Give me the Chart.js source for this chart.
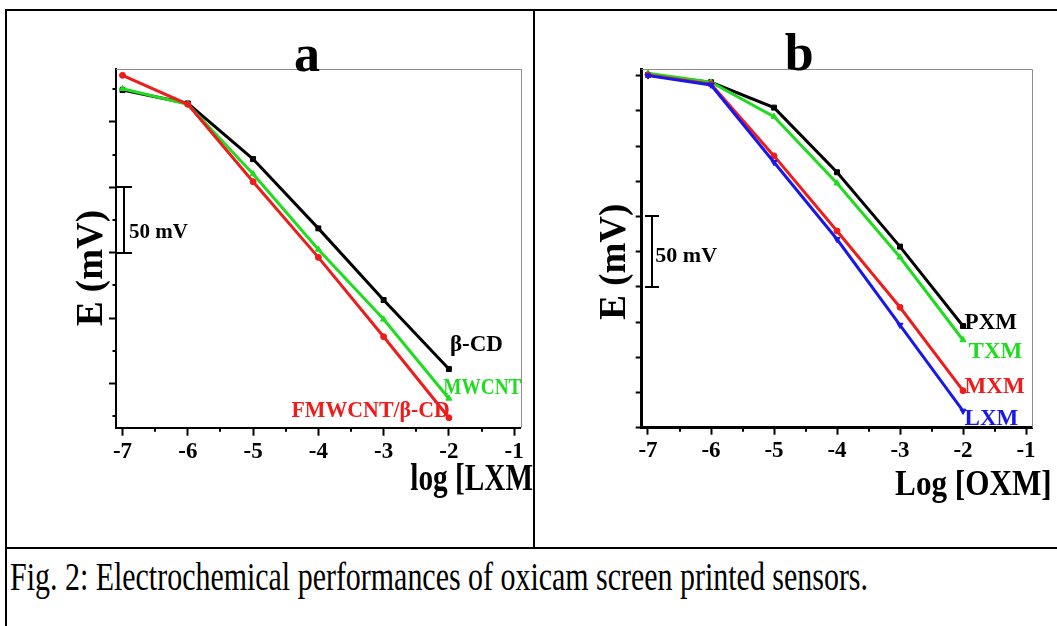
<!DOCTYPE html>
<html><head><meta charset="utf-8">
<script src="https://cdn.jsdelivr.net/npm/chart.js@4.4.1/dist/chart.umd.min.js"></script>
<style>
html,body{margin:0;padding:0;background:#fff;}
body{width:1057px;height:626px;position:relative;overflow:hidden;font-family:"Liberation Serif","Times New Roman",serif;}
.ln{position:absolute;background:#000;}
#ca{position:absolute;left:0;top:0;}
#cb{position:absolute;left:535px;top:0;}
#cap{position:absolute;left:10px;top:557px;font-size:39px;line-height:39px;white-space:nowrap;transform-origin:0 0;color:#000;}
</style></head>
<body>
<canvas id="ca" width="534" height="548"></canvas>
<canvas id="cb" width="522" height="548"></canvas>
<div class="ln" style="left:5px;top:9px;width:1052px;height:2px"></div>
<div class="ln" style="left:5px;top:9px;width:2px;height:617px"></div>
<div class="ln" style="left:533px;top:9px;width:2px;height:540px"></div>
<div class="ln" style="left:5px;top:547px;width:1052px;height:2px"></div>
<div id="cap">Fig. 2: Electrochemical performances of oxicam screen printed sensors.</div>
<script>
// ---------- data ----------
const logConc = [-7, -6, -5, -4, -3, -2];
const xTickValues = [-7, -6, -5, -4, -3, -2, -1];
const xTickLabels = ['-7', '-6', '-5', '-4', '-3', '-2', '-1'];
const xMinorTicks = [-6.5, -5.5, -4.5, -3.5, -2.5, -1.5];

// panel a: LXM sensors (E in mV, arbitrary offset)
const seriesA = ['β-CD', 'MWCNT', 'FMWCNT/β-CD'];
const betaCD = [274.4, 264.2, 221.6, 168.6, 113.8, 61.0];
const mwcnt  = [275.4, 263.5, 210.2, 152.5, 99.0, 38.5];
const fmwcnt = [285.7, 263.5, 204.3, 146.4, 85.7, 23.7];
const yTicksA = [50, 100, 150, 200, 250];
const yMinorA = [25, 75, 125, 175, 225, 275];
const barA = [150, 200];

// panel b: oxicam sensors
const seriesB = ['PXM', 'TXM', 'MXM', 'LXM'];
const pxm = [250.5, 245.3, 227.3, 181.4, 128.6, 72.2];
const txm = [251.7, 245.3, 220.9, 173.6, 121.0, 62.3];
const mxm = [250.5, 243.9, 193.0, 139.7, 85.5, 26.3];
const lxm = [250.0, 243.4, 188.5, 133.8, 72.9, 11.9];
const yTicksB = [0, 25, 50, 75, 100, 125, 150, 175, 200, 225, 250];
const barB = [100, 150];

// ---------- helpers ----------
const FF = '"Liberation Serif","Times New Roman",serif';
const bold = s => 'bold ' + s + 'px ' + FF;
const pts = arr => logConc.map((x, i) => ({x: x, y: arr[i]}));
const BLACK = '#000000', RED = '#ee1c1c', GREEN = '#1fdc1f', BLUE = '#1818ee';

const panelDecor = {
  id: 'panelDecor',
  beforeDatasetsDraw(chart, args, o) {
    const ctx = chart.ctx, ca = chart.chartArea, x = chart.scales.x, y = chart.scales.y;
    ctx.save();
    ctx.strokeStyle = '#8c8c8c'; ctx.lineWidth = 1;
    const t = Math.round(ca.top) + 0.5, r = Math.round(ca.right) + 0.5;
    ctx.beginPath(); ctx.moveTo(ca.left, t); ctx.lineTo(r, t); ctx.lineTo(r, ca.bottom); ctx.stroke();
    ctx.strokeStyle = '#000'; ctx.lineWidth = 2;
    ctx.beginPath();
    o.xMinor.forEach(v => { const p = Math.round(x.getPixelForValue(v)); ctx.moveTo(p, ca.bottom); ctx.lineTo(p, ca.bottom + o.xMinorLen); });
    o.yMinor.forEach(v => { const p = Math.round(y.getPixelForValue(v)); ctx.moveTo(ca.left, p); ctx.lineTo(ca.left - o.yMinorLen, p); });
    ctx.stroke();
    const bx = Math.round(x.getPixelForValue(o.bar.x)), b1 = Math.round(y.getPixelForValue(o.bar.range[0])), b2 = Math.round(y.getPixelForValue(o.bar.range[1]));
    ctx.beginPath();
    ctx.moveTo(bx, b1); ctx.lineTo(bx, b2);
    ctx.moveTo(bx - o.bar.cap, b1); ctx.lineTo(bx + o.bar.cap, b1);
    ctx.moveTo(bx - o.bar.cap, b2); ctx.lineTo(bx + o.bar.cap, b2);
    ctx.stroke();
    ctx.restore();
  },
  afterDraw(chart, args, o) {
    const ctx = chart.ctx, ca = chart.chartArea, x = chart.scales.x, y = chart.scales.y;
    o.texts.forEach(t => {
      let px, py;
      if (t.data) { px = x.getPixelForValue(t.data[0]); py = y.getPixelForValue(t.data[1]); }
      else { px = ca[t.ax] + t.dx; py = ca[t.ay] + t.dy; }
      ctx.save();
      ctx.translate(px, py);
      if (t.rot) ctx.rotate(t.rot);
      ctx.scale(t.sx || 1, 1);
      ctx.font = t.font; ctx.fillStyle = t.color || '#000';
      ctx.textAlign = t.align || 'left'; ctx.textBaseline = 'alphabetic';
      ctx.fillText(t.text, 0, 0);
      ctx.restore();
    });
  }
};

function ds(label, data, color, style, rot, order) {
  return {label: label, data: pts(data), borderColor: color, backgroundColor: color,
    borderWidth: 3, pointStyle: style, rotation: rot || 0, pointRadius: style === 'circle' ? 3 : 3.5,
    pointBorderWidth: 1, tension: 0, order: order};
}

function xScale(borderW, tickLen) {
  return {
    type: 'linear', position: 'bottom', min: -7.1, max: -0.9,
    border: {display: true, color: '#000', width: borderW},
    grid: {display: true, drawOnChartArea: false, drawTicks: true, tickLength: tickLen, tickWidth: 2, tickColor: '#000'},
    ticks: {includeBounds: false, autoSkip: false, maxRotation: 0, color: '#000', padding: 3,
      font: {family: FF, size: 23, weight: 'bold'},
      callback: (v, i) => xTickLabels[i]},
    afterBuildTicks: s => { s.ticks = xTickValues.map(v => ({value: v})); },
    afterFit: s => { s.height = 120.3; }
  };
}

function yScale(min, max, ticks, borderW, tickLen, width) {
  return {
    type: 'linear', position: 'left', min: min, max: max,
    border: {display: true, color: '#000', width: borderW},
    grid: {display: true, drawOnChartArea: false, drawTicks: true, tickLength: tickLen, tickWidth: 2, tickColor: '#000'},
    ticks: {display: false, includeBounds: false},
    afterBuildTicks: s => { s.ticks = ticks.map(v => ({value: v})); },
    afterFit: s => { s.width = width; }
  };
}

const common = {
  responsive: false, animation: false, devicePixelRatio: 1,
  events: [],
};

// ---------- panel a ----------
new Chart(document.getElementById('ca'), {
  type: 'line',
  data: {datasets: [
    ds(seriesA[0], betaCD, BLACK, 'rect', 0, 3),
    ds(seriesA[1], mwcnt, GREEN, 'triangle', 0, 2),
    ds(seriesA[2], fmwcnt, RED, 'circle', 0, 1)
  ]},
  options: Object.assign({}, common, {
    layout: {padding: {left: 0, top: 69.3, right: 13.3, bottom: 0}},
    scales: {x: xScale(2, 8), y: yScale(16.1, 290.3, yTicksA, 2, 7, 116)},
    plugins: {
      legend: {display: false}, tooltip: {enabled: false},
      panelDecor: {
        xMinor: xMinorTicks, xMinorLen: 4, yMinor: yMinorA, yMinorLen: 3.5,
        bar: {x: -6.98, range: barA, cap: 8},
        texts: [
          {text: 'a', ax: 'left', dx: 191, ay: 'top', dy: 1.7, font: bold(52), align: 'center'},
          {text: 'E (mV)', ax: 'left', dx: -14.5, ay: 'top', dy: 198.7, font: bold(37), align: 'center', rot: -Math.PI / 2},
          {text: 'log [LXM', ax: 'right', dx: 12.3, ay: 'bottom', dy: 61.8, font: bold(38), align: 'right', sx: 0.77},
          {text: '50 mV', data: [-6.899, 161], font: bold(21)},
          {text: seriesA[0], data: [-1.985, 75], font: bold(23), color: BLACK},
          {text: seriesA[1], data: [-2.088, 41.9], font: bold(23), color: GREEN, sx: 0.84},
          {text: seriesA[2], data: [-4.411, 24.6], font: bold(23), color: RED, sx: 0.95}
        ]
      }
    }
  }),
  plugins: [panelDecor]
});

// ---------- panel b ----------
new Chart(document.getElementById('cb'), {
  type: 'line',
  data: {datasets: [
    ds(seriesB[0], pxm, BLACK, 'rect', 0, 4),
    ds(seriesB[1], txm, GREEN, 'triangle', 0, 3),
    ds(seriesB[2], mxm, RED, 'circle', 0, 2),
    ds(seriesB[3], lxm, BLUE, 'triangle', 180, 1)
  ]},
  options: Object.assign({}, common, {
    layout: {padding: {left: 0, top: 69.3, right: 24.7, bottom: 0}},
    scales: {x: xScale(3, 7), y: yScale(0, 254.5, yTicksB, 3, 6, 106.7)},
    plugins: {
      legend: {display: false}, tooltip: {enabled: false},
      panelDecor: {
        xMinor: xMinorTicks, xMinorLen: 4, yMinor: [], yMinorLen: 0,
        bar: {x: -6.94, range: barB, cap: 7},
        texts: [
          {text: 'b', ax: 'left', dx: 157.6, ay: 'top', dy: 0.7, font: bold(52), align: 'center'},
          {text: 'E (mV)', ax: 'left', dx: -16.4, ay: 'top', dy: 192.4, font: bold(37), align: 'center', rot: -Math.PI / 2},
          {text: 'Log [OXM]', ax: 'right', dx: 19.4, ay: 'bottom', dy: 67.3, font: bold(35), align: 'right', sx: 0.89},
          {text: '50 mV', data: [-6.884, 117.5], font: bold(22)},
          {text: seriesB[0], data: [-1.975, 69.9], font: bold(24), color: BLACK, sx: 0.96},
          {text: seriesB[1], data: [-1.911, 49.3], font: bold(24), color: GREEN, sx: 0.96},
          {text: seriesB[2], data: [-1.975, 24.4], font: bold(24), color: RED, sx: 0.96},
          {text: seriesB[3], data: [-1.975, 1.9], font: bold(24), color: BLUE, sx: 0.96}
        ]
      }
    }
  }),
  plugins: [panelDecor]
});

// caption fit
const cap = document.getElementById('cap');
const w = cap.getBoundingClientRect().width;
cap.style.transform = 'scaleX(' + (858 / w) + ')';
</script>
</body></html>
